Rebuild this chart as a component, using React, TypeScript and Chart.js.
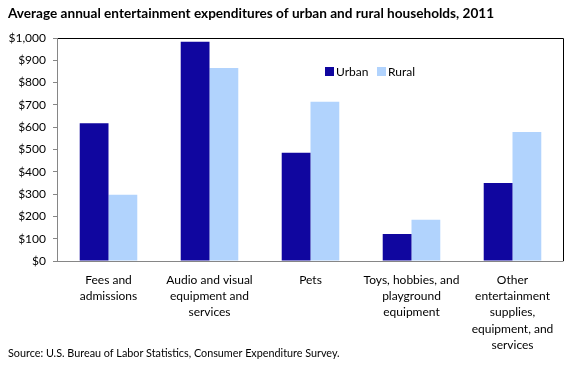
import React, { useEffect, useRef } from "react";
import { Chart, registerables } from "chart.js";
Chart.register(...registerables);

const categories: string[][] = [
  ["Fees and", "admissions"],
  ["Audio and visual", "equipment and", "services"],
  ["Pets"],
  ["Toys, hobbies, and", "playground", "equipment"],
  ["Other", "entertainment", "supplies,", "equipment, and", "services"],
];
const urban = [618, 983, 485, 121, 350];
const rural = [297, 866, 714, 185, 579];
const yTicks = [0, 100, 200, 300, 400, 500, 600, 700, 800, 900, 1000];
const titleText = "Average annual entertainment expenditures of urban and rural households, 2011";
const sourceText = "Source: U.S. Bureau of Labor Statistics, Consumer Expenditure Survey.";

const URBAN = "#10069F";
const RURAL = "#B1D3FD";
const FONT = "Lato, 'Open Sans', sans-serif";

const decor = {
  id: "decor",
  afterDraw(chart: any) {
    const { ctx, chartArea: a } = chart;
    ctx.save();
    // frame
    ctx.lineWidth = 1;
    ctx.strokeStyle = "#000";
    ctx.beginPath();
    ctx.moveTo(a.left, a.top + 0.5);
    ctx.lineTo(a.right + 0.5, a.top + 0.5);
    ctx.lineTo(a.right + 0.5, a.bottom);
    ctx.stroke();
    ctx.strokeStyle = "#868686";
    ctx.beginPath();
    ctx.moveTo(a.left - 0.5, a.top);
    ctx.lineTo(a.left - 0.5, a.bottom + 0.5);
    ctx.lineTo(a.right + 0.5, a.bottom + 0.5);
    ctx.stroke();
    // title
    ctx.fillStyle = "#000";
    ctx.textBaseline = "middle";
    ctx.textAlign = "left";
    ctx.font = `bold 13.6px ${FONT}`;
    ctx.fillText(titleText, 8, 14);
    ctx.font = `10.8px ${FONT}`;
    ctx.fillText(sourceText, 8, 354);
    // legend
    ctx.font = `12px ${FONT}`;
    ctx.fillStyle = URBAN;
    ctx.fillRect(325, 67, 9, 9);
    ctx.fillStyle = "#000";
    ctx.fillText("Urban", 336, 72);
    ctx.fillStyle = RURAL;
    ctx.fillRect(377, 67, 9, 9);
    ctx.fillStyle = "#000";
    ctx.fillText("Rural", 388, 72);
    ctx.restore();
  },
};

export default function App() {
  const ref = useRef<HTMLCanvasElement>(null);
  useEffect(() => {
    const chart = new Chart(ref.current!, {
      type: "bar",
      data: {
        labels: categories,
        datasets: [
          { label: "Urban", data: urban, backgroundColor: URBAN },
          { label: "Rural", data: rural, backgroundColor: RURAL },
        ],
      },
      options: {
        animation: false,
        responsive: false,
        devicePixelRatio: 1,
        layout: { padding: { top: 38, right: 17, left: 0, bottom: 0 } },
        datasets: { bar: { categoryPercentage: 0.57, barPercentage: 1 } },
        plugins: { legend: { display: false }, tooltip: { enabled: false }, title: { display: false } },
        scales: {
          x: {
            grid: { display: false, drawTicks: false },
            border: { display: false },
            ticks: { color: "#000", font: { family: FONT, size: 12, lineHeight: 1.35 }, padding: 11, maxRotation: 0, autoSkip: false },
            afterFit(s: any) { s.height = 106; },
          },
          y: {
            min: 0,
            max: 1000,
            afterBuildTicks(s: any) { s.ticks = yTicks.map((v) => ({ value: v })); },
            grid: { drawOnChartArea: false, tickLength: 5, color: "#868686" },
            border: { display: false },
            ticks: {
              color: "#000",
              font: { family: FONT, size: 12 },
              padding: 7,
              callback: (v: any) => "$" + Number(v).toLocaleString("en-US"),
            },
            afterFit(s: any) { s.width = 58; },
          },
        },
      },
      plugins: [decor],
    });
    return () => chart.destroy();
  }, []);
  return (
    <div style={{ position: "fixed", left: 0, top: 0, width: 580, height: 367, background: "#fff" }}>
      <canvas ref={ref} width={580} height={367} />
    </div>
  );
}
